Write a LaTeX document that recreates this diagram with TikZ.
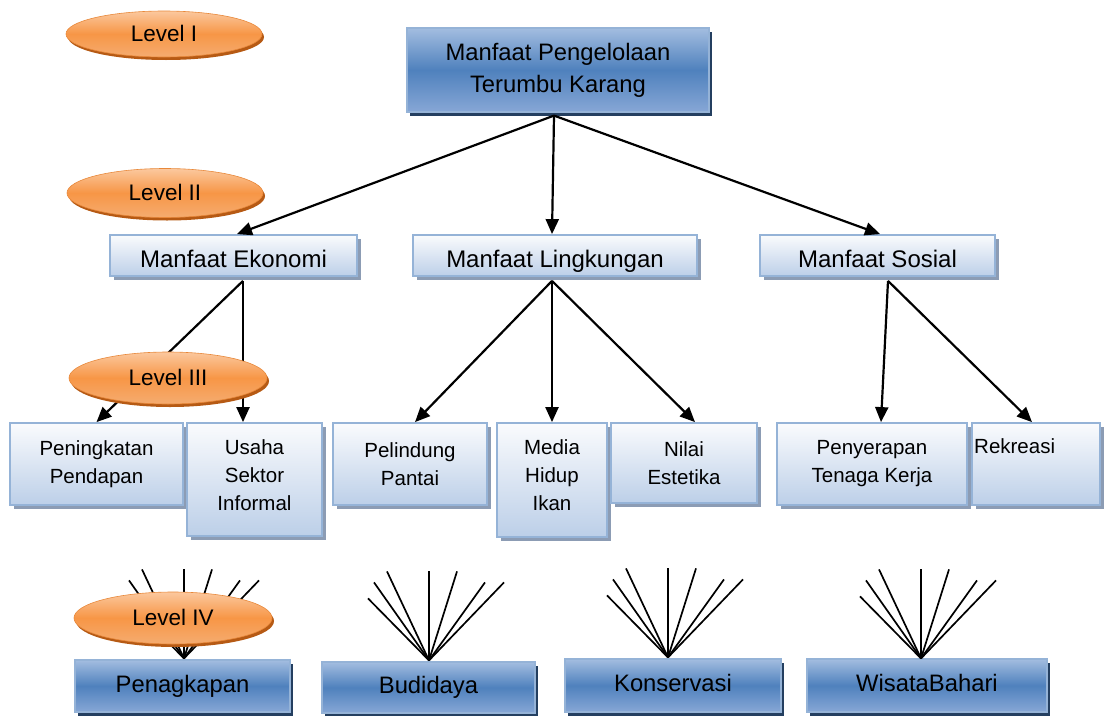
\documentclass[tikz,border=0pt]{standalone}
\usepackage{fontspec}
\setmainfont{Liberation Sans}
\usetikzlibrary{shapes.geometric,arrows.meta,shadows}
\definecolor{lbord}{RGB}{149,179,215}
\definecolor{ltop}{RGB}{250,251,253}
\definecolor{lbot}{RGB}{188,207,232}
\definecolor{lshad}{RGB}{140,156,180}
\definecolor{dtop}{RGB}{163,189,224}
\definecolor{dmid}{RGB}{79,129,189}
\definecolor{dbot}{RGB}{135,167,214}
\definecolor{dshad}{RGB}{36,63,96}
\definecolor{otop}{RGB}{251,200,158}
\definecolor{omid}{RGB}{247,150,70}
\definecolor{obot}{RGB}{245,172,112}
\definecolor{oshad}{RGB}{182,90,20}
\definecolor{obord}{RGB}{232,136,58}
\begin{document}
\begin{tikzpicture}[x=1pt,y=-1pt,
 lbox/.style={draw=lbord, line width=1.8pt, top color=ltop, bottom color=lbot,
   drop shadow={shadow xshift=4pt,shadow yshift=-4pt,fill=lshad,opacity=1},
   inner sep=0pt, align=center, font=\fontsize{20.5}{28}\selectfont},
 lbigbox/.style={lbox, font=\fontsize{24}{28}\selectfont, text height=30pt, text depth=6pt},
 dbox/.style={draw=lbord, line width=1.2pt, top color=dtop, bottom color=dbot, middle color=dmid,
   drop shadow={shadow xshift=3pt,shadow yshift=-4pt,fill=dshad,opacity=1},
   inner sep=0pt, align=center, font=\fontsize{23.8}{32}\selectfont},
 dlow/.style={dbox, text height=17pt, text depth=5pt},
 lvl/.style={ellipse, draw=obord, line width=0.6pt, top color=otop, bottom color=obot, middle color=omid,
   drop shadow={shadow xshift=2pt,shadow yshift=-3pt,fill=oshad,opacity=1},
   minimum width=196pt, minimum height=46pt, inner sep=0pt, text height=17pt, text depth=2pt,
   font=\fontsize{22.5}{27}\selectfont},
 arr/.style={line width=2.2pt, -{Triangle[length=15pt,width=13pt]}},
 fan/.style={line width=1.7pt}]
\useasboundingbox (0,0) rectangle (1105,715);

% Level I
\node[dbox, minimum width=302pt, minimum height=84pt] (top) at (558,70) {Manfaat Pengelolaan\\Terumbu Karang};

% Level II
\node[lbigbox, minimum width=247pt, minimum height=41pt] (eko) at (233.5,255.5) {Manfaat Ekonomi};
\node[lbigbox, minimum width=284pt, minimum height=41pt] (ling) at (555,255.5) {Manfaat Lingkungan};
\node[lbigbox, minimum width=235pt, minimum height=41pt] (sos) at (877.5,255.5) {Manfaat Sosial};

% Level III
\node[lbox, minimum width=173pt, minimum height=82pt] (pen) at (96.5,464) {Peningkatan\\Pendapan};
\node[lbox, minimum width=135pt, minimum height=113pt, text depth=9pt] (usa) at (254.5,479.5) {Usaha\\Sektor\\Informal};
\node[lbox, minimum width=154pt, minimum height=82pt] (pel) at (410,464) {Pelindung\\Pantai};
\node[lbox, minimum width=110pt, minimum height=114pt, text depth=9pt] (med) at (552,480) {Media\\Hidup\\Ikan};
\node[lbox, minimum width=146pt, minimum height=80pt] (nil) at (684,463) {Nilai\\Estetika};
\node[lbox, minimum width=190pt, minimum height=82pt] (peny) at (872,464) {Penyerapan\\Tenaga Kerja};
\node[lbox, minimum width=128pt, minimum height=82pt] (rek) at (1036,464) {};
\node[anchor=base west, inner sep=0pt, font=\fontsize{20.5}{28}\selectfont] (rektext) at (974,453) {Rekreasi};

% Level IV
\node[dlow, minimum width=215pt, minimum height=52pt] (pkp) at (182.5,686) {Penagkapan};
\node[dlow, minimum width=213pt, minimum height=51pt] (bud) at (428.5,687.5) {Budidaya};
\node[dlow, minimum width=216pt, minimum height=53pt] (kon) at (673,685.5) {Konservasi};
\node[dlow, minimum width=240pt, minimum height=53pt] (wis) at (927,685.5) {WisataBahari};

% arrows level I -> II
\draw[arr] ([xshift=-4pt,yshift=-3pt]top.south) -- ([xshift=3.5pt]eko.north);
\draw[arr] ([xshift=-4pt,yshift=-3pt]top.south) -- ([xshift=-3pt]ling.north);
\draw[arr] ([xshift=-4pt,yshift=-3pt]top.south) -- ([xshift=2.5pt]sos.north);

% arrows level II -> III
\draw[arr] ([xshift=9.5pt,yshift=-4pt]eko.south) -- (pen.north);
\draw[arr] ([xshift=9.5pt,yshift=-4pt]eko.south) -- ([xshift=-11.5pt]usa.north);
\draw[arr] ([xshift=-3pt,yshift=-4pt]ling.south) -- ([xshift=5pt]pel.north);
\draw[arr] ([xshift=-3pt,yshift=-4pt]ling.south) -- (med.north);
\draw[arr] ([xshift=-3pt,yshift=-4pt]ling.south) -- ([xshift=11pt]nil.north);
\draw[arr] ([xshift=10.5pt,yshift=-4pt]sos.south) -- ([xshift=9pt]peny.north);
\draw[arr] ([xshift=10.5pt,yshift=-4pt]sos.south) -- ([xshift=-4pt]rek.north);

% fans level IV
\coordinate (pkpA) at ([xshift=1.5pt,yshift=1pt]pkp.north);
\coordinate (budA) at ([xshift=0.5pt,yshift=1pt]bud.north);
\coordinate (konA) at ([xshift=-5pt,yshift=1pt]kon.north);
\coordinate (wisA) at ([xshift=-6pt,yshift=0pt]wis.north);
\foreach \a in {pkpA,budA,konA,wisA}{
  \foreach \dx/\dy in {-61/-62,-55/-78,-42/-89,0/-89,28/-89,56/-78,75/-78}{
    \draw[fan] (\a) -- ++(\dx,\dy);
  }
}

% level ellipses
\node[lvl] (lv1) at (164,34) {Level I};
\node[lvl, minimum height=49pt] (lv2) at (165,193) {Level II};
\node[lvl, minimum height=52pt, minimum width=198pt] (lv3) at (168,378) {Level III};
\node[lvl, minimum height=52pt, minimum width=198pt] (lv4) at (173,618) {Level IV};
\end{tikzpicture}
\end{document}
